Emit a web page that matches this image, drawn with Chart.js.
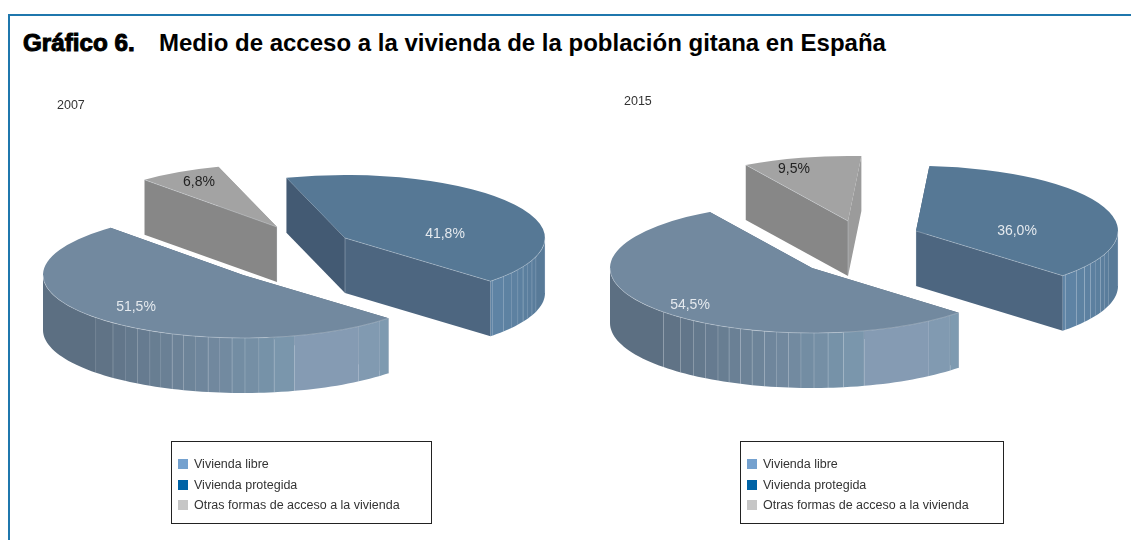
<!DOCTYPE html>
<html lang="es">
<head>
<meta charset="utf-8">
<title>Gráfico 6</title>
<script src="https://cdn.jsdelivr.net/npm/chart.js@4"></script>
<style>
    html, body { margin: 0; padding: 0; background: #fff; }
    body { width: 1131px; height: 540px; position: relative; overflow: hidden; font-family: "Liberation Sans", Arial, sans-serif; color: #333; }
    canvas { position: absolute; left: 0; top: 0; }
    .frame { position: absolute; left: 8px; top: 14px; width: 1123px; height: 526px; border-left: 2px solid #1f77ad; border-top: 2px solid #1f77ad; box-sizing: border-box; }
    .title { position: absolute; left: 23px; top: 29px; font-size: 24px; font-weight: bold; color: #000; white-space: nowrap; }
    .title b { display: inline-block; width: 136px; transform-origin: 0 50%; transform: scaleX(1.01); -webkit-text-stroke: 1px #000; }
    .year { position: absolute; font-size: 12.5px; color: #333; }
    .legend { position: absolute; top: 441px; height: 83px; box-sizing: border-box; border: 1px solid #222; font-size: 12.5px; }
    .legend div { position: absolute; left: 22px; white-space: nowrap; line-height: 14px; }
    .legend i { position: absolute; left: -16px; top: 2px; width: 10px; height: 10px; }
</style>
</head>
<body>
<div class="frame"></div>
<div class="title"><b>Gráfico 6.</b>Medio de acceso a la vivienda de la población gitana en España</div>
<canvas id="pie2007" width="1131" height="540"></canvas>
<canvas id="pie2015" width="1131" height="540"></canvas>
<div class="year" style="left:57px;top:98px">2007</div>
<div class="year" style="left:624px;top:94px">2015</div>
<div class="legend" id="legend2007" style="left:171px;width:261px"></div>
<div class="legend" id="legend2015" style="left:740px;width:264px"></div>

<script>
const categories = ['Vivienda libre', 'Vivienda protegida', 'Otras formas de acceso a la vivienda'];
const values2007 = [51.5, 41.8, 6.8];
const values2015 = [54.5, 36.0, 9.5];

// the pie runs libre -> otras -> protegida clockwise, the legend does not
const drawOrder = [0, 2, 1];
const topColours = ['#72899f', '#567895', '#a3a3a3'];
const legendColours = ['#74a1cf', '#0063a6', '#c6c6c6'];
const labelColours = ['#e4e9ee', '#e4e9ee', '#222'];
// [first cut face, second cut face]
const faceColours = [['#5d7083', '#4d6680'], ['#435a73', '#4d6680'], ['#878787', '#9b9b9b']];

// angles (deg) where the facets of the rim change
const facetAngles = [17.2, 20.7, 23.8, 27, 30.1, 33.4, 37.4, 42.3, 46.8, 54.6, 75, 81, 85.4, 89.4, 93.1, 96.6, 100,
    103.6, 107.2, 110.7, 114.2, 117.7, 121.7, 125.8, 130.5, 137.3];
const wallStops = [[0, '#567895'], [43.5, '#5f84a5'], [44, '#7e9ab0'], [60, '#859bb3'], [75, '#859bb3'], [76, '#7c98ae'],
    [81, '#7793a9'], [100, '#70879d'], [137, '#5e7184'], [180, '#5b6e80']];
const DEPTH = 55;
const RAD = Math.PI / 180;

function hexToRgb(h) {
    return [1, 3, 5].map(i => parseInt(h.substr(i, 2), 16));
}

function wallColour(deg) {
    for (let i = 1; i < wallStops.length; i++) {
        if (deg <= wallStops[i][0]) {
            const a = wallStops[i - 1], b = wallStops[i];
            const t = (deg - a[0]) / (b[0] - a[0]);
            const ca = hexToRgb(a[1]), cb = hexToRgb(b[1]);
            return 'rgb(' + ca.map((c, n) => Math.round(c + (cb[n] - c) * t)).join(',') + ')';
        }
    }
    return wallStops[wallStops.length - 1][1];
}

function drawBand(ctx, arc, sy, ry, a0, a1) {
    const steps = Math.max(2, Math.ceil((a1 - a0) / 2));
    ctx.beginPath();
    for (let i = 0; i <= steps; i++) {
        const a = (a0 + (a1 - a0) * i / steps) * RAD;
        ctx.lineTo(arc.x + arc.outerRadius * Math.cos(a), sy + ry * Math.sin(a));
    }
    for (let i = steps; i >= 0; i--) {
        const a = (a0 + (a1 - a0) * i / steps) * RAD;
        ctx.lineTo(arc.x + arc.outerRadius * Math.cos(a), sy + ry * Math.sin(a) + DEPTH);
    }
    ctx.closePath();
    const colour = wallColour((a0 + a1) / 2);
    ctx.fillStyle = colour;
    ctx.fill();
    // thin light seam between facets
    const sx = arc.x + arc.outerRadius * Math.cos(a0 * RAD);
    const syy = sy + ry * Math.sin(a0 * RAD);
    ctx.beginPath();
    ctx.moveTo(sx, syy);
    ctx.lineTo(sx, syy + DEPTH);
    ctx.strokeStyle = 'rgba(225,232,240,0.42)';
    ctx.lineWidth = 0.8;
    ctx.stroke();
}

function drawFace(ctx, x0, y0, x1, y1, colour) {
    ctx.beginPath();
    ctx.moveTo(x0, y0);
    ctx.lineTo(x1, y1);
    ctx.lineTo(x1, y1 + DEPTH);
    ctx.lineTo(x0, y0 + DEPTH);
    ctx.closePath();
    ctx.fillStyle = colour;
    ctx.fill();
}

// Chart.js pies are flat: squash the arcs and put the sides under them
const solidPie = {
    id: 'solidPie',
    afterDatasetUpdate(chart, args, opts) {
        args.meta.data.forEach((arc, i) => {
            arc.x = opts.centres[i][0];
            arc.y = opts.centres[i][1] / opts.squash;
        });
    },
    beforeDatasetsDraw(chart, args, opts) {
        const ctx = chart.ctx;
        const arcs = chart.getDatasetMeta(0).data;
        const ry = arcs[0].outerRadius * opts.squash;
        // back to front: otras, protegida, libre
        [1, 2, 0].forEach(i => {
            const arc = arcs[i];
            const sy = opts.centres[i][1];
            const faces = faceColours[drawOrder[i]];
            const point = a => [arc.x + arc.outerRadius * Math.cos(a), sy + ry * Math.sin(a)];
            const p0 = point(arc.startAngle), p1 = point(arc.endAngle);
            // the face with its rim end further back goes first
            if (p0[1] < p1[1]) {
                drawFace(ctx, p0[0], p0[1], arc.x, sy, faces[0]);
                drawFace(ctx, arc.x, sy, p1[0], p1[1], faces[1]);
            } else {
                drawFace(ctx, arc.x, sy, p1[0], p1[1], faces[1]);
                drawFace(ctx, p0[0], p0[1], arc.x, sy, faces[0]);
            }
            // rim: only the part turned to the viewer
            const start = arc.startAngle / RAD, end = arc.endAngle / RAD;
            [0, 360].forEach(turn => {
                const from = Math.max(start, turn), to = Math.min(end, turn + 180);
                if (to <= from) return;
                const breaks = [from].concat(facetAngles.map(a => a + turn).filter(a => a > from && a < to), [to]);
                for (let b = breaks.length - 2; b >= 0; b--) {
                    drawBand(ctx, arc, sy, ry, breaks[b] - turn, breaks[b + 1] - turn);
                }
            });
        });
    },
    beforeDatasetDraw(chart, args, opts) {
        chart.ctx.save();
        chart.ctx.scale(1, opts.squash);
    },
    afterDatasetDraw(chart) {
        chart.ctx.restore();
    },
    afterDatasetsDraw(chart, args, opts) {
        const ctx = chart.ctx;
        const arcs = chart.getDatasetMeta(0).data;
        const ry = arcs[0].outerRadius * opts.squash;
        ctx.strokeStyle = 'rgba(225,232,240,0.45)';
        ctx.lineWidth = 0.7;
        arcs.forEach((arc, i) => {
            const sy = opts.centres[i][1];
            const start = arc.startAngle / RAD, end = arc.endAngle / RAD;
            [0, 360].forEach(turn => {
                const from = Math.max(start, turn), to = Math.min(end, turn + 180);
                if (to <= from) return;
                ctx.beginPath();
                ctx.ellipse(arc.x, sy, arc.outerRadius, ry, 0, from * RAD, to * RAD);
                ctx.stroke();
            });
            // front edge of the slice
            const front = drawOrder[i] === 2 ? arc.startAngle : arc.endAngle;
            if (drawOrder[i] !== 0) {
                ctx.beginPath();
                ctx.moveTo(arc.x, sy);
                ctx.lineTo(arc.x + arc.outerRadius * Math.cos(front), sy + ry * Math.sin(front));
                ctx.stroke();
                ctx.beginPath();
                ctx.moveTo(arc.x, sy);
                ctx.lineTo(arc.x, sy + DEPTH);
                ctx.stroke();
            }
        });
        ctx.font = '14px "Liberation Sans", Arial, sans-serif';
        ctx.textAlign = 'center';
        ctx.textBaseline = 'middle';
        arcs.forEach((arc, i) => {
            const value = chart.data.datasets[0].data[i];
            ctx.fillStyle = labelColours[drawOrder[i]];
            ctx.fillText(value.toFixed(1).replace('.', ',') + '%',
                arc.x + opts.labels[i][0], opts.centres[i][1] + opts.labels[i][1]);
        });
    }
};

function makePie(id, values, layout) {
    return new Chart(document.getElementById(id), {
        type: 'pie',
        data: {
            labels: drawOrder.map(i => categories[i]),
            datasets: [{
                data: drawOrder.map(i => values[i]),
                backgroundColor: drawOrder.map(i => topColours[i]),
                borderWidth: 0,
                clip: false
            }]
        },
        options: {
            responsive: false,
            animation: false,
            rotation: layout.rotation,
            radius: layout.radius,
            events: [],
            plugins: {
                legend: { display: false },
                tooltip: { enabled: false },
                solidPie: layout
            }
        },
        plugins: [solidPie]
    });
}

makePie('pie2007', values2007, {
    rotation: 133.3,
    radius: 200,
    squash: 0.315,
    centres: [[243, 275], [277, 227], [345, 238]],   // libre, otras, protegida
    labels: [[-107, 32], [-78, -45], [100, -4]]
});

makePie('pie2015', values2015, {
    rotation: 133.4,
    radius: 202,
    squash: 0.322,
    centres: [[812, 268], [848, 221], [916, 231]],
    labels: [[-122, 37], [-54, -52], [101, 0]]
});

function fillLegend(id) {
    const tops = [15, 36, 56];
    document.getElementById(id).innerHTML = categories.map((c, i) =>
        '<div style="top:' + tops[i] + 'px"><i style="background:' + legendColours[i] + '"></i>' + c + '</div>').join('');
}
fillLegend('legend2007');
fillLegend('legend2015');
</script>
</body>
</html>
